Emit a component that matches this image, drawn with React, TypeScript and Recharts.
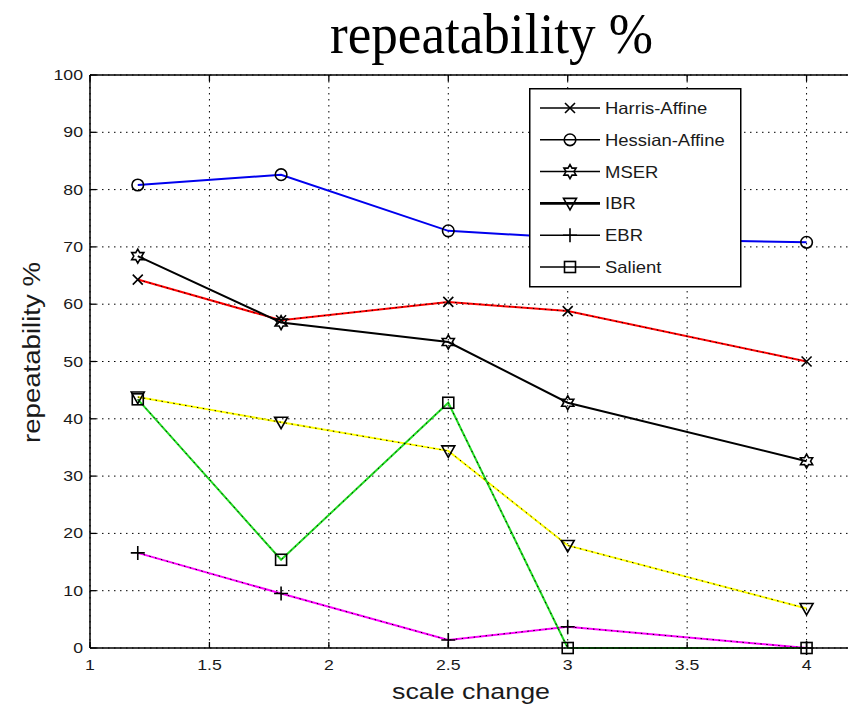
import React from 'react'
import {
  LineChart,
  Line,
  XAxis,
  YAxis,
  CartesianGrid,
  Legend,
  ReferenceLine,
} from 'recharts'

// scale change values on the x axis
const scaleChange = [1.2, 1.8, 2.5, 3, 4]

// repeatability % per detector
const harrisAffine = [64.3, 57.2, 60.4, 58.8, 50.0]
const hessianAffine = [80.8, 82.6, 72.8, 71.6, 70.8]
const mser = [68.4, 56.8, 53.4, 42.8, 32.6]
const ibr = [43.8, 39.4, 34.4, 17.9, 6.9]
const ebr = [16.6, 9.5, 1.4, 3.7, 0]
const salient = [43.4, 15.4, 42.8, 0, 0]

const xTicks = [1, 1.5, 2, 2.5, 3, 3.5, 4]
const yTicks = [0, 10, 20, 30, 40, 50, 60, 70, 80, 90, 100]

type Shape = 'x' | 'circle' | 'hexagram' | 'triangle' | 'plus' | 'square'

const series: Array<{ key: string; name: string; color: string; shape: Shape; dotted: boolean; values: number[] }> = [
  { key: 'harris', name: 'Harris-Affine', color: '#ff0000', shape: 'x', dotted: true, values: harrisAffine },
  { key: 'hessian', name: 'Hessian-Affine', color: '#0000ee', shape: 'circle', dotted: false, values: hessianAffine },
  { key: 'mser', name: 'MSER', color: '#000000', shape: 'hexagram', dotted: false, values: mser },
  { key: 'ibr', name: 'IBR', color: '#ffff00', shape: 'triangle', dotted: true, values: ibr },
  { key: 'ebr', name: 'EBR', color: '#ff00ff', shape: 'plus', dotted: true, values: ebr },
  { key: 'salient', name: 'Salient', color: '#22dd22', shape: 'square', dotted: true, values: salient },
]

const data = scaleChange.map((x, i) => {
  const row: any = { x }
  series.forEach((s) => {
    row[s.key] = s.values[i]
  })
  return row
})

const FONT = '"Liberation Sans", Arial, Helvetica, sans-serif'

const Marker = ({ shape, cx, cy }: { shape: Shape; cx: number; cy: number }) => {
  const st = { stroke: '#000', strokeWidth: 1.6, fill: 'none' }
  if (shape === 'circle') return <circle cx={cx} cy={cy} r={5.8} {...st} />
  if (shape === 'x')
    return (
      <path d={`M${cx - 5},${cy - 5}L${cx + 5},${cy + 5}M${cx - 5},${cy + 5}L${cx + 5},${cy - 5}`} {...st} />
    )
  if (shape === 'plus')
    return <path d={`M${cx - 7},${cy}L${cx + 7},${cy}M${cx},${cy - 7}L${cx},${cy + 7}`} {...st} />
  if (shape === 'square') return <rect x={cx - 5.5} y={cy - 5.5} width={11} height={11} {...st} />
  if (shape === 'triangle')
    return <polygon points={`${cx - 6.5},${cy - 5} ${cx + 6.5},${cy - 5} ${cx},${cy + 6.5}`} {...st} />
  // hexagram
  const pts: string[] = []
  for (let k = 0; k < 12; k++) {
    const r = k % 2 === 0 ? 7 : 4
    const a = -Math.PI / 2 + (k * Math.PI) / 6
    pts.push(`${cx + r * Math.cos(a)},${cy + r * Math.sin(a)}`)
  }
  return <polygon points={pts.join(' ')} {...st} />
}

const YTick = (props: any) => {
  const { x, y, payload } = props
  return (
    <g>
      <line x1={x} x2={x + 6} y1={y} y2={y} stroke="#000" strokeWidth={1.3} />
      <g transform={`translate(${x - 7},${y + 5}) scale(1.22,1)`}>
        <text textAnchor="end" fontSize={14.5} fill="#1a1a1a" fontFamily={FONT}>
          {payload.value}
        </text>
      </g>
    </g>
  )
}

const XTick = (props: any) => {
  const { x, y, payload } = props
  return (
    <g>
      <line x1={x} x2={x} y1={y} y2={y - 6} stroke="#000" strokeWidth={1.3} />
      <line x1={x} x2={x} y1={75} y2={81} stroke="#000" strokeWidth={1.3} />
      <g transform={`translate(${x},${y + 22}) scale(1.22,1)`}>
        <text textAnchor="middle" fontSize={14.5} fill="#1a1a1a" fontFamily={FONT}>
          {payload.value}
        </text>
      </g>
    </g>
  )
}

const LegendBox = () => (
  <svg width={213} height={200} style={{ display: 'block' }}>
    <rect x={0.75} y={0.75} width={211} height={198} fill="#fff" stroke="#000" strokeWidth={1.5} />
    {series.map((s, i) => {
      const cy = 20 + i * 31.8
      return (
        <g key={s.key}>
          <line x1={11} x2={71} y1={cy} y2={cy} stroke="#000" strokeWidth={s.key === 'ibr' ? 2.6 : 1.5} />
          <Marker shape={s.shape} cx={41} cy={cy} />
          <g transform={`translate(76,${cy + 6}) scale(1.12,1)`}>
            <text fontSize={16.5} fill="#1a1a1a" fontFamily={FONT}>
              {s.name}
            </text>
          </g>
        </g>
      )
    })}
  </svg>
)

export default function App() {
  return (
    <div style={{ position: 'absolute', left: 0, top: 0, width: 848, height: 706, overflow: 'hidden', background: '#fff' }}>
      <LineChart width={940} height={706} data={data} margin={{ top: 75, right: 14, bottom: 0, left: 0 }}>
        <CartesianGrid stroke="#000" strokeDasharray="1.5 4.5" strokeWidth={1} />
        <XAxis
          dataKey="x"
          type="number"
          domain={[1, 4.5]}
          ticks={xTicks}
          height={58}
          tickSize={0}
          tickMargin={0}
          tickLine={false}
          tick={<XTick />}
          stroke="#000"
          strokeWidth={1.5}
          allowDataOverflow
        />
        <YAxis
          type="number"
          domain={[0, 100]}
          ticks={yTicks}
          width={90}
          tickSize={0}
          tickMargin={0}
          tickLine={false}
          tick={<YTick />}
          stroke="#000"
          strokeWidth={1.5}
        />
        <ReferenceLine y={100} stroke="#000" strokeWidth={1.5} />
        {series.map((s) => (
          <Line
            key={s.key}
            dataKey={s.key}
            name={s.name}
            stroke={s.color}
            strokeWidth={2}
            isAnimationActive={false}
            activeDot={false}
            dot={(p: any) => <Marker key={`${s.key}-${p.index}`} shape={s.shape} cx={p.cx} cy={p.cy} />}
          />
        ))}
        {series
          .filter((s) => s.dotted)
          .map((s) => (
            <Line
              key={`${s.key}-dots`}
              dataKey={s.key}
              stroke="#000"
              strokeWidth={1}
              strokeDasharray="1.5 4.5"
              legendType="none"
              dot={false}
              activeDot={false}
              isAnimationActive={false}
            />
          ))}
        <Legend
          layout="vertical"
          align="center"
          verticalAlign="middle"
          content={() => <LegendBox />}
          wrapperStyle={{ left: 529, top: 88, width: 213, height: 200 }}
        />
      </LineChart>
      <svg width={848} height={706} style={{ position: 'absolute', left: 0, top: 0, pointerEvents: 'none' }}>
        <text
          x={330}
          y={53}
          fontSize={58}
          fontFamily='"Liberation Serif", "Times New Roman", serif'
          fill="#000"
          textLength={323}
          lengthAdjust="spacingAndGlyphs"
        >
          repeatability %
        </text>
        <text
          x={392}
          y={699}
          fontSize={22}
          fontFamily={FONT}
          fill="#1a1a1a"
          textLength={158}
          lengthAdjust="spacingAndGlyphs"
        >
          scale change
        </text>
        <text
          transform="translate(40,443) rotate(-90)"
          fontSize={23}
          fontFamily={FONT}
          fill="#1a1a1a"
          textLength={181}
          lengthAdjust="spacingAndGlyphs"
        >
          repeatability %
        </text>
      </svg>
    </div>
  )
}
